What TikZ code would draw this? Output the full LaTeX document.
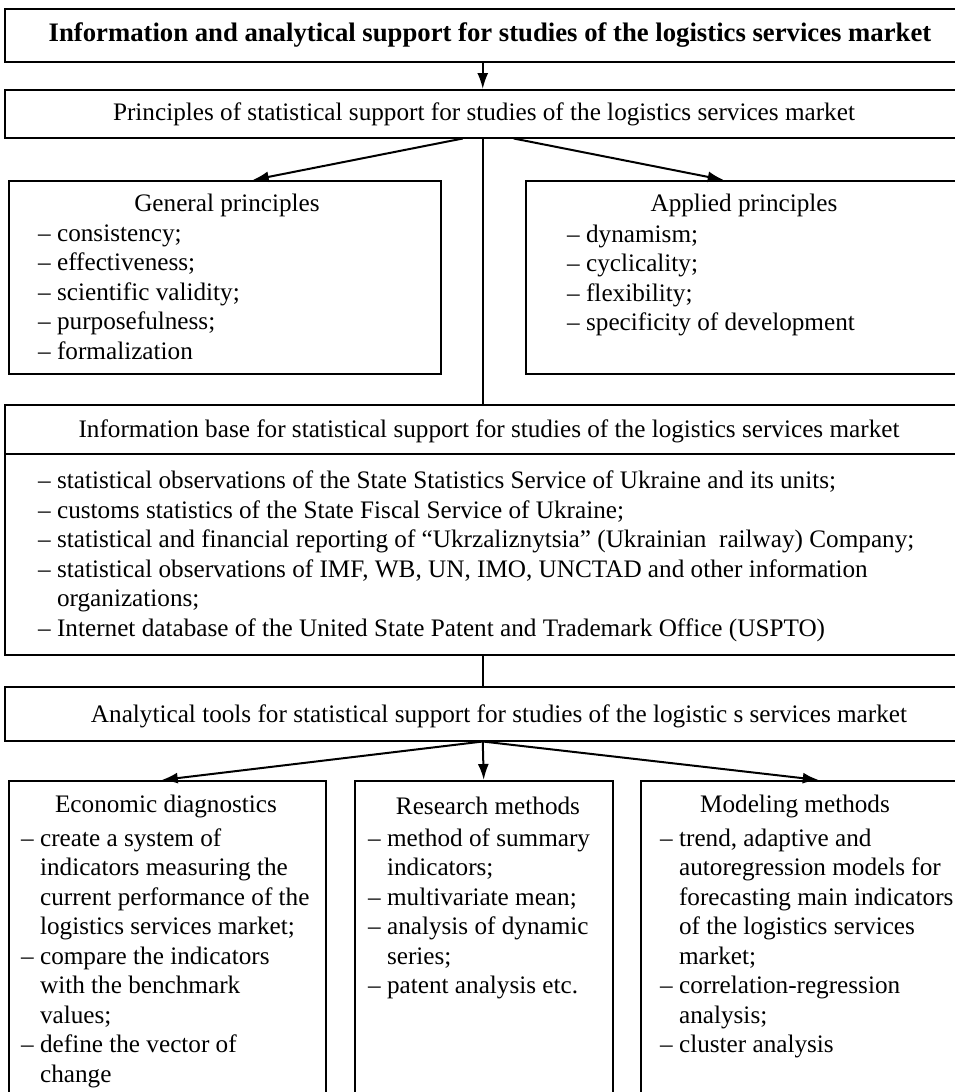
\documentclass[tikz,border=0pt]{standalone}
\usepackage{fontspec}
\setmainfont{Liberation Serif}
\usetikzlibrary{positioning,calc,arrows.meta}

\newcommand{\cont}{\hphantom{–\ }}

\begin{document}
\begin{tikzpicture}[x=1pt,y=-1pt,
  box/.style={draw, line width=1.5pt, anchor=north west, inner sep=0pt},
  txt/.style={font=\fontsize{25.2}{29.5}\selectfont, inner sep=0pt},
  items/.style={txt, align=left, anchor=north west},
  arr/.style={-{Latex[length=16pt,width=11pt]}, line width=2pt},
  link/.style={line width=1.7pt}]

\useasboundingbox (0,0) rectangle (954,1092);

% boxes
\node[box, minimum width=956pt, minimum height=53pt] (head) at (4,8) {};
\node[box, minimum width=956pt, minimum height=48pt] (prin) at (4,89) {};
\node[box, minimum width=432pt, minimum height=193pt] (gen) at (8,180) {};
\node[box, minimum width=435pt, minimum height=193pt] (app) at (525,180) {};
\node[box, minimum width=956pt, minimum height=49pt] (infohead) at (4,404) {};
\node[box, minimum width=956pt, minimum height=201pt] (infolist) at (4,453) {};
\node[box, minimum width=956pt, minimum height=54pt] (ana) at (4,686) {};
\node[box, minimum width=317pt, minimum height=330pt] (diag) at (8,780) {};
\node[box, minimum width=258pt, minimum height=330pt] (res) at (354,780) {};
\node[box, minimum width=320pt, minimum height=330pt] (mod) at (640,780) {};

% texts
\node[txt, font=\fontsize{26.7}{30}\selectfont\bfseries] (headtext) at (490,35) {Information and analytical support for studies of the logistics services market};
\node[txt] (printext) at (484,114) {Principles of statistical support for studies of the logistics services market};

\node[txt] (gentitle) at (227,205) {General principles};
\node[items] (genitems) at (38,224.5) {– consistency;\\– effectiveness;\\– scientific validity;\\– purposefulness;\\– formalization};

\node[txt] (apptitle) at (744,205) {Applied principles};
\node[items] (appitems) at (567,224.5) {– dynamism;\\– cyclicality;\\– flexibility;\\– specificity of development};

\node[txt] (infotitle) at (489,431) {Information base for statistical support for studies of the logistics services market};
\node[items] (infoitems) at (38,471) {– statistical observations of the State Statistics Service of Ukraine and its units;\\
– customs statistics of the State Fiscal Service of Ukraine;\\
– statistical and financial reporting of “Ukrzaliznytsia” (Ukrainian\ \ railway) Company;\\
– statistical observations of IMF, WB, UN, IMO, UNCTAD and other information\\
\cont organizations;\\
– Internet database of the United State Patent and Trademark Office (USPTO)};

\node[txt] (anatext) at (499,716) {Analytical tools for statistical support for studies of the logistic s services market};

\node[txt] (diagtitle) at (166,806) {Economic diagnostics};
\node[items] (diagitems) at (21,828.5) {– create a system of\\
\cont indicators measuring the\\
\cont current performance of the\\
\cont logistics services market;\\
– compare the indicators\\
\cont with the benchmark\\
\cont values;\\
– define the vector of\\
\cont change};

\node[txt] (restitle) at (488,806) {Research methods};
\node[items] (resitems) at (368,828.5) {– method of summary\\
\cont indicators;\\
– multivariate mean;\\
– analysis of dynamic\\
\cont series;\\
– patent analysis etc.};

\node[txt] (modtitle) at (795,806) {Modeling methods};
\node[items] (moditems) at (660,828.5) {– trend, adaptive and\\
\cont autoregression models for\\
\cont forecasting main indicators\\
\cont of the logistics services\\
\cont market;\\
– correlation-regression\\
\cont analysis;\\
– cluster analysis};

% connectors
\draw[arr] (head.south) -- (prin.north);
\draw[arr] ($(prin.south)+(-20,0)$) -- ($(gen.north)+(28,0)$);
\draw[arr] ($(prin.south)+(31,0)$) -- ($(app.north)+(-19.5,0)$);
\draw[link] (prin.south) -- (infohead.north);
\draw[link] (infolist.south) -- (ana.north);
\draw[arr] (ana.south) -- ($(diag.north)+(-5.5,0)$);
\draw[arr] (ana.south) -- (res.north);
\draw[arr] (ana.south) -- ($(mod.north)+(18,0)$);

\end{tikzpicture}
\end{document}
